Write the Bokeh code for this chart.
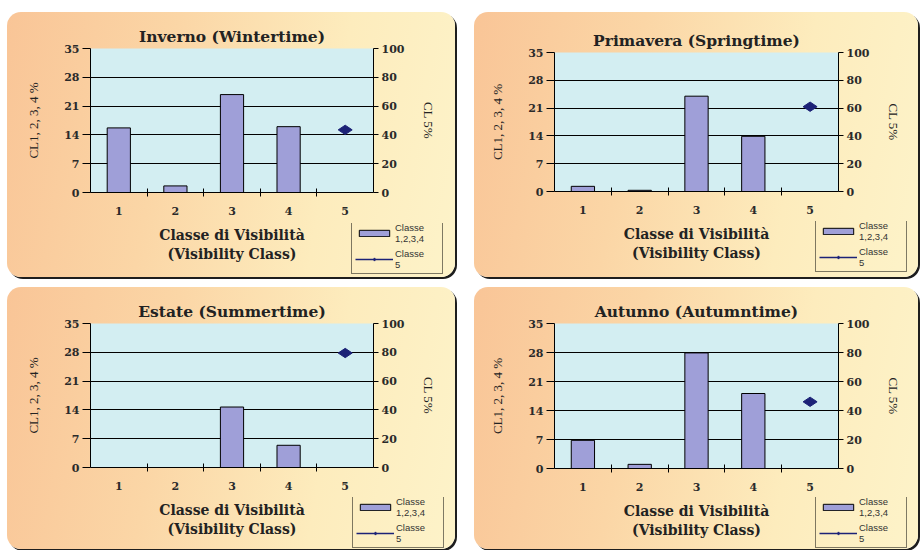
import numpy as np
from bokeh.plotting import figure
from bokeh.models import Range1d, LinearAxis, FixedTicker, Legend, LegendItem
from bokeh.layouts import column, row
from bokeh.embed import file_html
from bokeh.resources import INLINE

# ---------------- data ----------------
classes = [1, 2, 3, 4]
class5 = [5]
x_tick_values = [1, 2, 3, 4, 5]
x_tick_labels = ["1", "2", "3", "4", "5"]
titles = ["Inverno (Wintertime)", "Primavera (Springtime)",
          "Estate (Summertime)", "Autunno (Autumntime)"]
winter = [15.7, 1.6, 23.8, 16.0]
spring = [1.3, 0.3, 24.0, 13.9]
summer = [0.0, 0.0, 14.7, 5.4]
autumn = [6.8, 1.0, 27.9, 18.1]
winter5 = [43.5]
spring5 = [61.0]
summer5 = [79.5]
autumn5 = [46.0]
left_ticks = [0, 7, 14, 21, 28, 35]
grid_ticks = [7, 14, 21, 28]
right_ticks = [0, 20, 40, 60, 80, 100]
legend_labels = ["Classe\n1,2,3,4", "Classe\n5"]
x_title = "Classe di Visibilità\n(Visibility Class)"
y_left_title = "CL1, 2, 3, 4 %"
y_right_title = "CL 5%"

# ---------------- style ----------------
BAR = "#9f9fd8"
NAVY = "#1c2277"
PLOT_BG = "#d3eef2"
SERIF = "DejaVu Serif"
SERIF2 = "Liberation Serif"
SANS = "Liberation Sans"

layouts = [
    dict(w=448, h=265, margin=(12, 0, 0, 7), L=83, R=82, T=36, B=85, lx=344, ly=212),
    dict(w=444, h=265, margin=(12, 0, 0, 19), L=80, R=80, T=40, B=86, lx=341, ly=210),
    dict(w=448, h=262, margin=(10, 0, 0, 7), L=83, R=82, T=36, B=82, lx=345, ly=211),
    dict(w=444, h=262, margin=(10, 0, 0, 19), L=80, R=80, T=36, B=81, lx=341, ly=211),
]
series = [(winter, winter5), (spring, spring5), (summer, summer5), (autumn, autumn5)]
LEG_H = 60
LEG_BOX_H = 50


def no_frame_align(fig):
    if "frame_align" in fig.properties():
        fig.frame_align = False


def style_tick_labels(ax):
    ax.major_label_text_font = SERIF
    ax.major_label_text_font_size = "11px"
    ax.major_label_text_font_style = "bold"
    ax.major_label_text_color = "#2a2a2a"


def add_glyphs(p, bars, pt):
    rb = p.vbar(x=classes, top=bars, width=0.41, fill_color=BAR,
                line_color="black", line_width=1)
    rl = p.line(x=class5, y=pt, y_range_name="cl5", line_color=NAVY, line_width=1.5)
    rs = p.scatter(x=class5, y=pt, y_range_name="cl5", marker="diamond",
                   size=14, angle=np.pi / 2, fill_color=NAVY, line_color=NAVY)
    return rb, rl, rs


def make_panel(title, bars, pt, lay):
    p = figure(width=lay["w"], height=lay["h"], margin=lay["margin"],
               x_range=Range1d(0.5, 5.5), y_range=Range1d(0, 35),
               output_backend="svg", toolbar_location=None,
               min_border_left=lay["L"], min_border_right=lay["R"],
               min_border_top=lay["T"], min_border_bottom=lay["B"],
               title=title)
    no_frame_align(p)
    p.styles = {
        "border-radius": "14px",
        "background": "linear-gradient(100deg, #f9c597 0%, #fbd6a6 35%, #fdecbd 70%, #fdf3c9 100%)",
        "box-shadow": "2px 2px 0px 0px #1e1e1e",
    }
    p.border_fill_alpha = 0
    p.background_fill_color = PLOT_BG
    p.outline_line_color = None
    p.title.align = "center"
    p.title.text_font = SERIF
    p.title.text_font_size = "15.5px"
    p.title.text_font_style = "bold"
    p.title.text_color = "#222222"
    p.title.standoff = 5

    p.extra_y_ranges = {"cl5": Range1d(0, 100)}

    p.xgrid.visible = False
    p.ygrid.ticker = FixedTicker(ticks=grid_ticks)
    p.ygrid.grid_line_color = "black"
    p.ygrid.grid_line_width = 1

    xa = p.xaxis[0]
    xa.ticker = FixedTicker(ticks=x_tick_values, minor_ticks=[1.5, 2.5, 3.5, 4.5])
    xa.major_label_overrides = {v: l for v, l in zip(x_tick_values, x_tick_labels)}
    xa.major_tick_in = 0
    xa.major_tick_out = 0
    xa.minor_tick_in = 4
    xa.minor_tick_out = 4
    xa.minor_tick_line_color = "black"
    xa.axis_line_color = "black"
    style_tick_labels(xa)
    xa.major_label_standoff = 10
    xa.axis_label = x_title
    xa.axis_label_text_font = SERIF
    xa.axis_label_text_font_size = "14px"
    xa.axis_label_text_font_style = "bold"
    xa.axis_label_text_color = "#222222"
    xa.axis_label_standoff = 9

    ya = p.yaxis[0]
    ya.ticker = FixedTicker(ticks=left_ticks)
    ya.major_tick_in = 0
    ya.major_tick_out = 8
    ya.minor_tick_line_color = None
    ya.axis_line_color = "black"
    style_tick_labels(ya)
    ya.major_label_standoff = 3
    ya.axis_label = y_left_title
    ya.axis_label_text_font = SERIF2
    ya.axis_label_text_font_size = "13px"
    ya.axis_label_text_font_style = "normal"
    ya.axis_label_text_color = "#222222"
    ya.axis_label_standoff = 20

    ra = LinearAxis(y_range_name="cl5", ticker=FixedTicker(ticks=right_ticks))
    ra.major_tick_in = 0
    ra.major_tick_out = 5
    ra.minor_tick_line_color = None
    ra.axis_line_color = "black"
    style_tick_labels(ra)
    ra.major_label_standoff = 3
    ra.axis_label = y_right_title
    ra.axis_label_text_font = SERIF2
    ra.axis_label_text_font_size = "13px"
    ra.axis_label_text_font_style = "normal"
    ra.axis_label_text_color = "#222222"
    ra.axis_label_standoff = 14
    p.add_layout(ra, "right")

    add_glyphs(p, bars, pt)

    # ----- legend: a transparent strip as wide as the card, laid over its bottom -----
    top_m, _, _, left_m = lay["margin"]
    up = lay["h"] - lay["ly"] + 1
    lf = figure(width=lay["w"], height=LEG_H, output_backend="svg", toolbar_location=None,
                x_range=Range1d(100, 101), y_range=Range1d(100, 101),
                x_axis_location=None, y_axis_location=None,
                min_border=0, margin=(-up, 0, up - LEG_H, left_m))
    no_frame_align(lf)
    lf.extra_y_ranges = {"cl5": Range1d(1000, 1001)}
    lf.grid.visible = False
    lf.outline_line_color = None
    lf.background_fill_alpha = 0
    lf.border_fill_alpha = 0
    rb, rl, rs = add_glyphs(lf, bars, pt)
    leg = Legend(items=[LegendItem(label=legend_labels[0], renderers=[rb]),
                        LegendItem(label=legend_labels[1], renderers=[rl, rs])],
                 location=(lay["lx"], LEG_H - 1 - LEG_BOX_H))
    leg.background_fill_alpha = 0
    leg.border_line_color = "black"
    leg.border_line_width = 1
    leg.padding = 3
    leg.spacing = 4
    leg.margin = 0
    leg.glyph_width = 38
    leg.glyph_height = 8
    leg.label_standoff = 2
    leg.label_height = 22
    leg.label_width = 44
    leg.label_text_font = SANS
    leg.label_text_font_size = "9.5px"
    leg.label_text_color = "#333333"
    lf.add_layout(leg, "center")
    return column(p, lf)


cards = [make_panel(t, b, s, l) for t, (b, s), l in zip(titles, series, layouts)]
page = column(row(cards[0], cards[1]), row(cards[2], cards[3]))

open("out.html", "w").write(file_html(page, INLINE))
